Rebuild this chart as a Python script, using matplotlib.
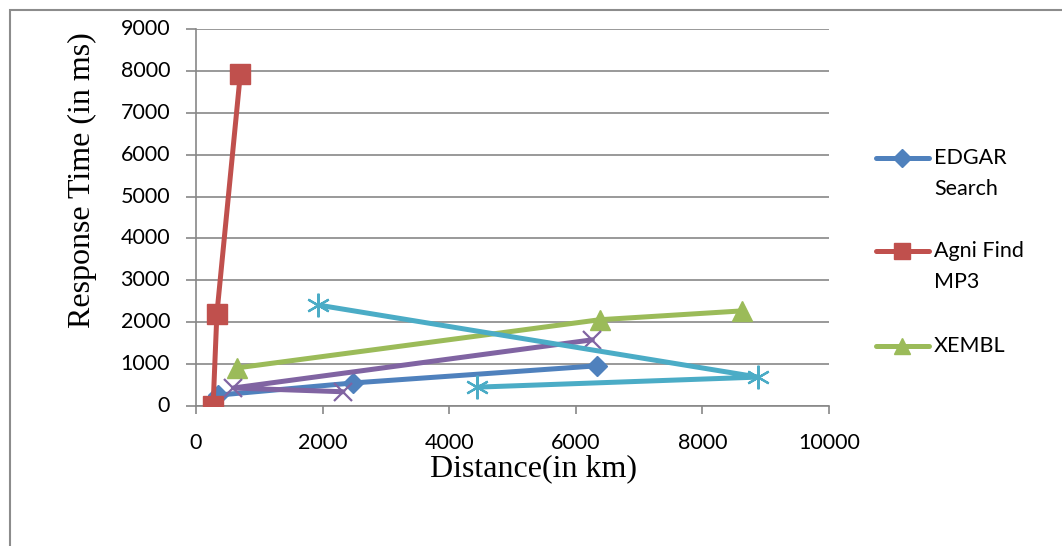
import matplotlib
matplotlib.use("Agg")
import matplotlib.pyplot as plt
from matplotlib.lines import Line2D
from matplotlib.patches import Rectangle

# response time (ms) against distance (km) for each web service
edgar_dist = [350, 2480, 6340]
edgar_time = [260, 550, 960]

agni_dist = [270, 330, 700]
agni_time = [0, 2200, 7920]

xembl_dist = [650, 6380, 8620]
xembl_time = [910, 2060, 2270]

purple_dist = [2320, 590, 6260]
purple_time = [340, 430, 1580]

cyan_dist = [1930, 8880, 4440]
cyan_time = [2410, 690, 450]

x_ticks = [0, 2000, 4000, 6000, 8000, 10000]
y_ticks = [0, 1000, 2000, 3000, 4000, 5000, 6000, 7000, 8000, 9000]

BLUE = "#4F81BD"
RED = "#C0504D"
GREEN = "#9BBB59"
PURPLE = "#8064A2"
CYAN = "#4BACC6"
GRID = "#878787"

W, H = 1062, 546
fig = plt.figure(figsize=(W / 100, H / 100), dpi=100)
ax = fig.add_axes([196 / W, 1 - 406 / H, (829 - 196) / W, (406 - 29) / H])

lw = 3.6
ax.plot(edgar_dist, edgar_time, color=BLUE, lw=lw, marker="D", ms=10.5,
        solid_capstyle="round", zorder=3)
ax.plot(agni_dist, agni_time, color=RED, lw=lw, marker="s", ms=14.5,
        solid_capstyle="round", zorder=4)
ax.plot(xembl_dist, xembl_time, color=GREEN, lw=lw, marker="^", ms=14,
        solid_capstyle="round", zorder=5)
ax.plot(purple_dist, purple_time, color=PURPLE, lw=lw, marker="x", ms=13,
        mew=1.6, solid_capstyle="round", zorder=6)
ax.plot(cyan_dist, cyan_time, color=CYAN, lw=lw, marker=(6, 2, 0), ms=17,
        mew=1.6, solid_capstyle="round", zorder=7)

ax.set_xlim(0, 10000)
ax.set_ylim(0, 9000)
ax.set_xticks(x_ticks)
ax.set_yticks(y_ticks)
ax.set_xticklabels([])
ax.set_yticklabels([])
ax.grid(axis="y", color=GRID, lw=1.2)
ax.set_axisbelow(True)
for side in ["top", "right"]:
    ax.spines[side].set_visible(False)
for side in ["left", "bottom"]:
    ax.spines[side].set_color(GRID)
    ax.spines[side].set_linewidth(1.2)
ax.tick_params(direction="out", length=6, width=1.2, color=GRID)
ax.tick_params(axis="y", length=7)

tick_font = dict(family=["Lato", "DejaVu Sans"], fontsize=15.5, color="black")
for v in y_ticks:
    ax.text(-0.041, v / 9000, str(v), transform=ax.transAxes,
            ha="right", va="center", **tick_font)
for v in x_ticks:
    ax.text(v / 10000, -0.097, str(v), transform=ax.transAxes,
            ha="center", va="center", **tick_font)

serif = ["Liberation Serif", "DejaVu Serif"]
fig.text(533 / W, 1 - 469 / H, "Distance(in km)", family=serif, fontsize=23,
         ha="center", va="center")
fig.text(82 / W, 1 - 180 / H, "Response Time (in ms)", family=serif,
         fontsize=23, rotation=90, ha="center", va="center")

# legend drawn by hand so the handle sits on the first text line
legend_rows = [
    (BLUE, "D", 9, ["EDGAR", "Search"], 158),
    (RED, "s", 12, ["Agni Find", "MP3"], 251),
    (GREEN, "^", 12, ["XEMBL"], 346),
]
for color, marker, ms, lines, yy in legend_rows:
    fy = 1 - yy / H
    fig.add_artist(Line2D([876 / W, 929 / W], [fy, fy], color=color, lw=lw,
                          solid_capstyle="round", transform=fig.transFigure))
    fig.add_artist(Line2D([902 / W], [fy], color=color, marker=marker, ms=ms,
                          lw=0, transform=fig.transFigure))
    for i, line in enumerate(lines):
        fig.text(934 / W, 1 - (yy + 31 * i) / H, line, ha="left", va="center",
                 **tick_font)

fig.add_artist(Rectangle((9.5 / W, -0.1), 1.2, 1 - 9.5 / H + 0.1,
                         transform=fig.transFigure, fill=False,
                         edgecolor="#8c8c8c", lw=1.5))

fig.savefig("out.png", dpi=100, facecolor="white")
